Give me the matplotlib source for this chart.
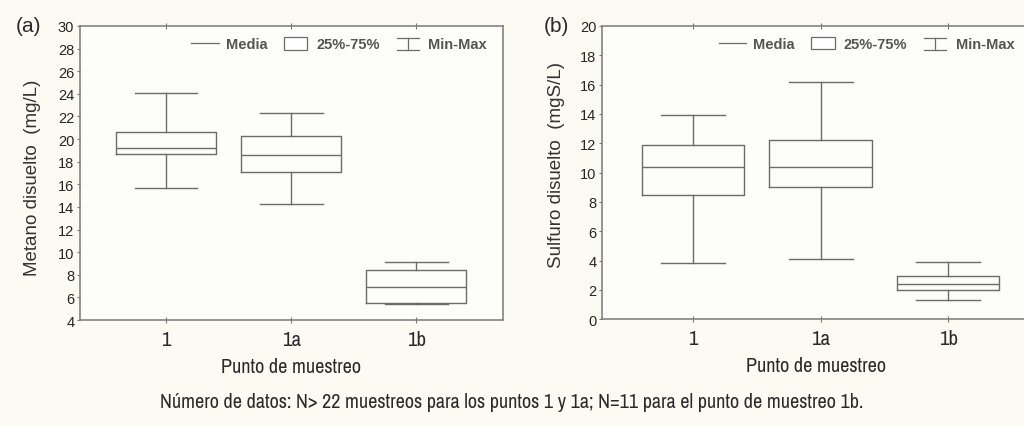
import matplotlib
matplotlib.use("Agg")
import matplotlib.pyplot as plt
from matplotlib.lines import Line2D
from matplotlib.patches import Rectangle
from matplotlib.legend_handler import HandlerBase

NARROW = ['Archivo Narrow', 'Liberation Sans', 'DejaVu Sans']
PLAIN = ['Liberation Sans', 'DejaVu Sans']
plt.rcParams['font.family'] = NARROW

# Sampling points
puntos = ["1", "1a", "1b"]

# Dissolved methane (mg/L): min, q1, median, q3, max
metano_min = [15.7, 14.3, 5.4]
metano_q1 = [18.65, 17.1, 5.55]
metano_med = [19.25, 18.6, 6.95]
metano_q3 = [20.65, 20.3, 8.45]
metano_max = [24.1, 22.3, 9.15]

# Dissolved sulphide (mgS/L): min, q1, median, q3, max
sulfuro_min = [3.85, 4.1, 1.3]
sulfuro_q1 = [8.45, 9.0, 2.0]
sulfuro_med = [10.35, 10.35, 2.4]
sulfuro_q3 = [11.85, 12.2, 2.95]
sulfuro_max = [13.95, 16.15, 3.9]

metano_ticks = list(range(4, 31, 2))
sulfuro_ticks = list(range(0, 21, 2))

LINE = "#6b6b6b"
SPINE = "#7a7a7a"
TXT = "#2a2a2a"


class MinMaxHandler(HandlerBase):
    """Legend key drawn as an I-beam (whisker with caps)."""
    def create_artists(self, legend, orig_handle, xdescent, ydescent,
                       width, height, fontsize, trans):
        cx = width / 2 - xdescent
        w = width * 0.8
        y0 = -ydescent - height * 0.1
        y1 = -ydescent + height * 1.0
        lines = [
            Line2D([cx - w / 2, cx + w / 2], [y0, y0]),
            Line2D([cx - w / 2, cx + w / 2], [y1, y1]),
            Line2D([cx, cx], [y0, y1]),
        ]
        for ln in lines:
            ln.set_color(LINE)
            ln.set_linewidth(0.9)
            ln.set_transform(trans)
        return lines


class BoxHandler(HandlerBase):
    """Legend key drawn as a small open box."""
    def create_artists(self, legend, orig_handle, xdescent, ydescent,
                       width, height, fontsize, trans):
        w = width * 0.85
        x0 = -xdescent + (width - w) / 2
        r = Rectangle((x0, -ydescent - height * 0.05), w, height * 1.1,
                      facecolor="white", edgecolor=LINE, linewidth=0.9,
                      transform=trans)
        return [r]


def stats(mn, q1, med, q3, mx):
    return [dict(whislo=a, q1=b, med=c, q3=d, whishi=e, fliers=[])
            for a, b, c, d, e in zip(mn, q1, med, q3, mx)]


def panel(ax, st, ticks, ylabel, xlim, label_xy):
    props = dict(color=LINE, linewidth=1.0)
    ax.bxp(st, positions=[1, 2, 3], widths=0.8, showfliers=False,
           boxprops=props, medianprops=props, whiskerprops=props,
           capprops=props, capwidths=0.5)
    ax.set_xlim(*xlim)
    ax.set_ylim(ticks[0], ticks[-1])
    ax.set_yticks(ticks)
    ax.set_yticklabels([str(t) for t in ticks], family=PLAIN, fontsize=10.5,
                       color="#262626")
    ax.set_xticks([1, 2, 3])
    ax.set_xticklabels(puntos, fontsize=15, color=TXT)
    ax.tick_params(axis='y', length=2.5, width=0.8, color=SPINE, pad=1.5)
    ax.tick_params(axis='x', direction='inout', length=4, width=0.8,
                   color=SPINE, pad=5, top=True)
    for s in ax.spines.values():
        s.set_color(SPINE)
        s.set_linewidth(1.1)
    ax.set_facecolor("#fdfdfb")
    ax.set_xlabel("Punto de muestreo", fontsize=14.5, color=TXT, labelpad=6)
    ax.set_ylabel(ylabel, fontsize=13.5, family=PLAIN, color="#333333",
                  va="center")
    ax.yaxis.set_label_coords(*label_xy)

    line_key = Line2D([], [], color=LINE, linewidth=0.9)
    box_key = Rectangle((0, 0), 1, 1)
    whisk_key = Line2D([], [])
    ax.legend([line_key, box_key, whisk_key], ["Media", "25%-75%", "Min-Max"],
              ncol=3, frameon=False, loc="center right",
              bbox_to_anchor=(0.98, 0.937),
              prop=dict(family=PLAIN, size=10.5, weight="bold"),
              handlelength=1.9, handleheight=0.8, handletextpad=0.45,
              columnspacing=1.0, labelcolor="#555555", borderpad=0,
              handler_map={box_key: BoxHandler(), whisk_key: MinMaxHandler()})
    return ax


fig = plt.figure(figsize=(10.24, 4.27), dpi=100, facecolor="#fbfaf3")

ax1 = fig.add_axes([0.078, 0.248, 0.413, 0.689])
panel(ax1, stats(metano_min, metano_q1, metano_med, metano_q3, metano_max),
      metano_ticks, "Metano disuelto  (mg/L)", (0.31, 3.69), (-0.111, 0.486))

ax2 = fig.add_axes([0.588, 0.250, 0.418, 0.687])
panel(ax2, stats(sulfuro_min, sulfuro_q1, sulfuro_med, sulfuro_q3, sulfuro_max),
      sulfuro_ticks, "Sulfuro disuelto  (mgS/L)", (0.29, 3.64), (-0.107, 0.529))

fig.text(0.028, 0.937, "(a)", fontsize=15, family=PLAIN, color=TXT,
         ha="center", va="center")
fig.text(0.543, 0.939, "(b)", fontsize=15, family=PLAIN, color=TXT,
         ha="center", va="center")

fig.text(0.5, 0.058,
         "Número de datos: N> 22 muestreos para los puntos 1 y 1a; "
         "N=11 para el punto de muestreo 1b.",
         ha="center", va="center", fontsize=14.5, color=TXT)

fig.savefig("out.png", dpi=100, facecolor=fig.get_facecolor())
